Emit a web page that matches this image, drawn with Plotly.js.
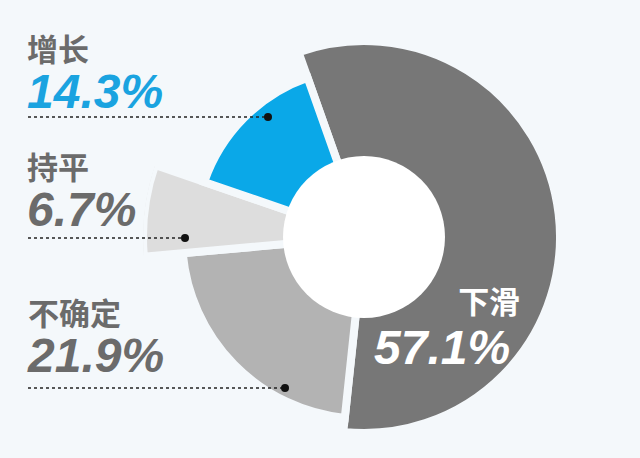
<!DOCTYPE html>
<html>
<head>
<meta charset="utf-8">
<script src="https://cdn.plot.ly/plotly-3.0.1.min.js"></script>
<style>
  html, body { margin: 0; padding: 0; background: #f4f8fb; }
  #chart { width: 640px; height: 458px; }
</style>
</head>
<body>
<div id="chart"></div>
<script>
// data, clockwise from the top
const labels = ['下滑', '不确定', '持平', '增长'];
const shares = [57.1, 21.9, 6.7, 14.3];

// look
const sliceColors = ['#777777', '#b3b3b3', '#dddddd', '#0aa8e8'];
const outerRadius = [196, 182, 221, 169];   // px, each slice has its own reach
const startAngle = -19.5;
const W = 640, H = 458;
const cx = 364, cy = 237, R = 221, holeR = 81;
const bg = '#f4f8fb';
const textGrey = '#6b6b6b';
const fontStack = '"Liberation Sans", "Noto Sans CJK SC", Arial, sans-serif';

const widths = shares.map(s => s * 3.6);
const thetas = [];
let acc = startAngle;
widths.forEach(w => { thetas.push(acc + w / 2); acc += w; });

const px = x => x / W;
const py = y => 1 - y / H;

const trace = {
    type: 'barpolar',
    r: outerRadius,
    theta: thetas,
    width: widths,
    base: 0,
    text: labels,
    marker: { color: sliceColors, line: { color: bg, width: 8 } },
    hoverinfo: 'text'
};

// label over value, one text block
function block(i, labelSize, valueSize, labelCol, valueCol) {
    return '<b><span style="font-size:' + labelSize + 'px;color:' + labelCol + '">' + labels[i] + '</span>' +
        '<br><span style="font-size:' + valueSize + 'px;color:' + valueCol + '"><i>' +
        shares[i].toFixed(1) + '%</i></span></b>';
}

// left side call-outs: [slice index, block top y, line y, dot x, value colour]
const callouts = [
    [3, 31, 117, 268, '#1aa3e0'],
    [2, 149, 238, 185, textGrey],
    [1, 295, 388, 285, textGrey]
];

const annotations = [];
const shapes = [];

callouts.forEach(([i, top, lineY, dotX, col]) => {
    annotations.push({
        xref: 'paper', yref: 'paper', x: px(25), y: py(top),
        xanchor: 'left', yanchor: 'top', align: 'left', showarrow: false,
        text: block(i, 31, 48, textGrey, col),
        font: { family: fontStack, size: 36, color: textGrey }
    });
    shapes.push({
        type: 'line', xref: 'paper', yref: 'paper',
        x0: px(28), x1: px(dotX), y0: py(lineY), y1: py(lineY),
        line: { color: '#222', width: 1.6, dash: 'dot' }, layer: 'above'
    });
    shapes.push({
        type: 'circle', xref: 'paper', yref: 'paper',
        xsizemode: 'pixel', ysizemode: 'pixel',
        xanchor: px(dotX), yanchor: py(lineY),
        x0: -4, x1: 4, y0: -4, y1: 4,
        fillcolor: '#111', line: { width: 0 }, layer: 'above'
    });
});

// label inside the big slice (trailing space nudges the value left of the label edge)
annotations.push({
    xref: 'paper', yref: 'paper', x: px(522), y: py(283),
    xanchor: 'right', yanchor: 'top', align: 'right', showarrow: false,
    text: '<b><span style="font-size:31px">' + labels[0] + '</span><br>' +
        '<span style="font-size:48px"><i>' + shares[0].toFixed(1) + '%</i></span>' +
        '<span style="font-size:36px">&nbsp;</span></b>',
    font: { family: fontStack, size: 39, color: '#ffffff' }
});

// white hole
shapes.push({
    type: 'circle', xref: 'paper', yref: 'paper',
    xsizemode: 'pixel', ysizemode: 'pixel',
    xanchor: px(cx), yanchor: py(cy),
    x0: -holeR, x1: holeR, y0: -holeR, y1: holeR,
    fillcolor: '#ffffff', line: { width: 0 }, layer: 'above'
});

const layout = {
    width: W, height: H,
    margin: { t: 0, l: 0, r: 0, b: 0 },
    paper_bgcolor: bg,
    plot_bgcolor: bg,
    showlegend: false,
    dragmode: false,
    polar: {
        domain: { x: [px(cx - R), px(cx + R)], y: [py(cy + R), py(cy - R)] },
        bgcolor: 'rgba(0,0,0,0)',
        radialaxis: { visible: false, range: [0, R] },
        angularaxis: { visible: false, direction: 'clockwise', rotation: 90 }
    },
    annotations: annotations,
    shapes: shapes
};

Plotly.newPlot('chart', [trace], layout, { displayModeBar: false, staticPlot: true });
</script>
</body>
</html>
